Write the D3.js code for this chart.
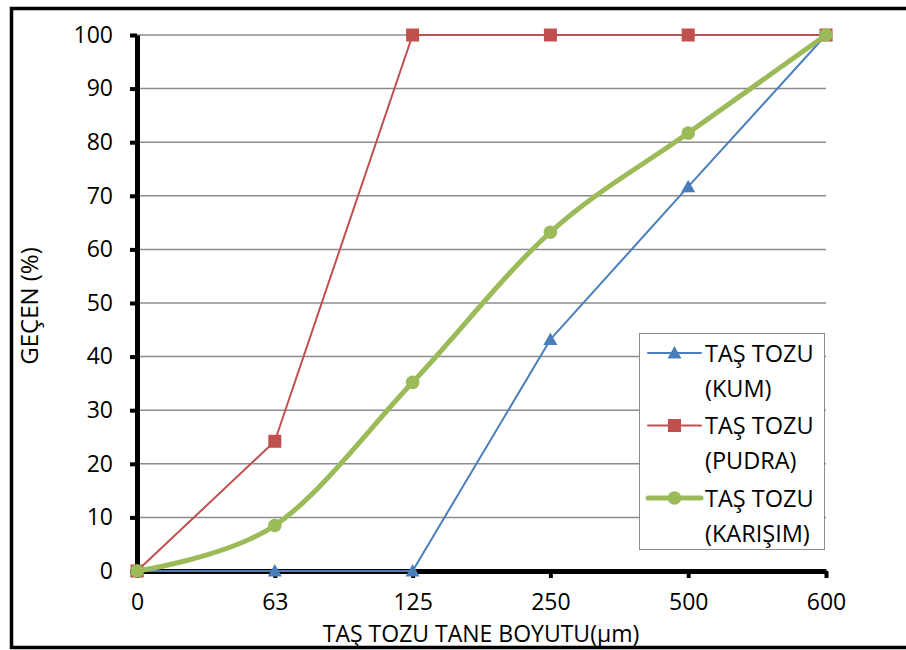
<!DOCTYPE html>
<html>
<head>
<meta charset="utf-8">
<script src="https://cdn.jsdelivr.net/npm/d3@7"></script>
<style>
  html, body { margin: 0; padding: 0; background: #fff; }
  svg { display: block; font-family: "Open Sans", "Lato", sans-serif; }
</style>
</head>
<body>
<svg id="chart" width="906" height="650"></svg>
<script>
// Grain size categories (µm) and percent passing for each stone-dust type
const sizes = ["0", "63", "125", "250", "500", "600"];
const kum = [0, 0, 0, 43.2, 71.7, 100];
const pudra = [0, 24.2, 100, 100, 100, 100];
const karisim = [0, 8.5, 35.2, 63.2, 81.7, 100];
const yTicks = [0, 10, 20, 30, 40, 50, 60, 70, 80, 90, 100];

const seriesNames = [["TAŞ TOZU", "(KUM)"], ["TAŞ TOZU", "(PUDRA)"], ["TAŞ TOZU", "(KARIŞIM)"]];
const colors = ["#4a7ebb", "#c0504d", "#9bbb59"];

const svg = d3.select("#chart");

// Outer frame (open on the right edge)
svg.append("rect")
  .attr("x", 11.5).attr("y", 8.5)
  .attr("width", 920).attr("height", 639)
  .attr("fill", "none").attr("stroke", "#000").attr("stroke-width", 3.5);

const x = d3.scalePoint().domain(sizes).range([137, 826]).padding(0);
const y = d3.scaleLinear().domain([0, 100]).range([571, 35]);

// Horizontal gridlines
svg.append("g")
  .selectAll("line")
  .data(yTicks.filter(d => d > 0))
  .join("line")
  .attr("x1", 137).attr("x2", 826)
  .attr("y1", d => y(d)).attr("y2", d => y(d))
  .attr("stroke", "#8c8c8c").attr("stroke-width", 1.5);

// Axes
const yAxis = svg.append("g")
  .attr("transform", "translate(137,0)")
  .call(d3.axisLeft(y).tickValues(yTicks).tickSize(7).tickSizeOuter(0).tickPadding(17));
const xAxis = svg.append("g")
  .attr("transform", "translate(0,571)")
  .call(d3.axisBottom(x).tickSize(7).tickSizeOuter(0).tickPadding(16));

[yAxis, xAxis].forEach(g => {
  g.select(".domain").attr("stroke", "#000").attr("stroke-width", 5);
  g.selectAll(".tick line").attr("stroke", "#000").attr("stroke-width", 4);
  g.selectAll(".tick text").attr("fill", "#000").style("font-size", "23px")
    .style("font-family", "'Open Sans', sans-serif");
});

// Axis titles
svg.append("text")
  .attr("x", 481).attr("y", 642)
  .attr("text-anchor", "middle")
  .style("font-size", "23px")
  .text("TAŞ TOZU TANE BOYUTU(μm)");
svg.append("text")
  .attr("transform", "translate(38,306) rotate(-90)")
  .attr("text-anchor", "middle")
  .style("font-size", "24px")
  .text("GEÇEN (%)");

// Series lines and markers
const straight = d3.line().x((d, i) => x(sizes[i])).y(d => y(d));
const smooth = d3.line().x((d, i) => x(sizes[i])).y(d => y(d)).curve(d3.curveCardinal.tension(0));

const plot = svg.append("g");

function marker(g, type, cx, cy, color) {
  if (type === 0) {
    g.append("path")
      .attr("d", `M${cx},${cy - 7}L${cx + 7},${cy + 5.5}L${cx - 7},${cy + 5.5}Z`)
      .attr("fill", color);
  } else if (type === 1) {
    g.append("rect")
      .attr("x", cx - 6.5).attr("y", cy - 6.5).attr("width", 13).attr("height", 13)
      .attr("fill", color);
  } else {
    g.append("circle").attr("cx", cx).attr("cy", cy).attr("r", 6.8).attr("fill", color);
  }
}

[kum, pudra, karisim].forEach((vals, s) => {
  plot.append("path")
    .attr("d", s === 2 ? smooth(vals) : straight(vals))
    .attr("fill", "none")
    .attr("stroke", colors[s])
    .attr("stroke-width", s === 2 ? 5 : 2)
    .attr("stroke-linejoin", "round")
    .attr("stroke-linecap", "round");
  const mg = plot.append("g");
  vals.forEach((v, i) => marker(mg, s, x(sizes[i]), y(v), colors[s]));
});

// Legend
const lg = svg.append("g");
lg.append("rect")
  .attr("x", 639.5).attr("y", 333.5).attr("width", 185).attr("height", 216)
  .attr("fill", "#fff").attr("stroke", "#8c8c8c").attr("stroke-width", 1);

seriesNames.forEach((lines, s) => {
  const cy = 353 + s * 72.5;
  lg.append("line")
    .attr("x1", 648).attr("x2", 701).attr("y1", cy).attr("y2", cy)
    .attr("stroke", colors[s]).attr("stroke-width", s === 2 ? 5 : 2)
    .attr("stroke-linecap", "round");
  marker(lg, s, 674.5, cy, colors[s]);
  lines.forEach((t, k) => {
    lg.append("text")
      .attr("x", 705).attr("y", cy + 8.5 + k * 35)
      .style("font-size", "23.5px")
      .text(t);
  });
});
</script>
</body>
</html>
